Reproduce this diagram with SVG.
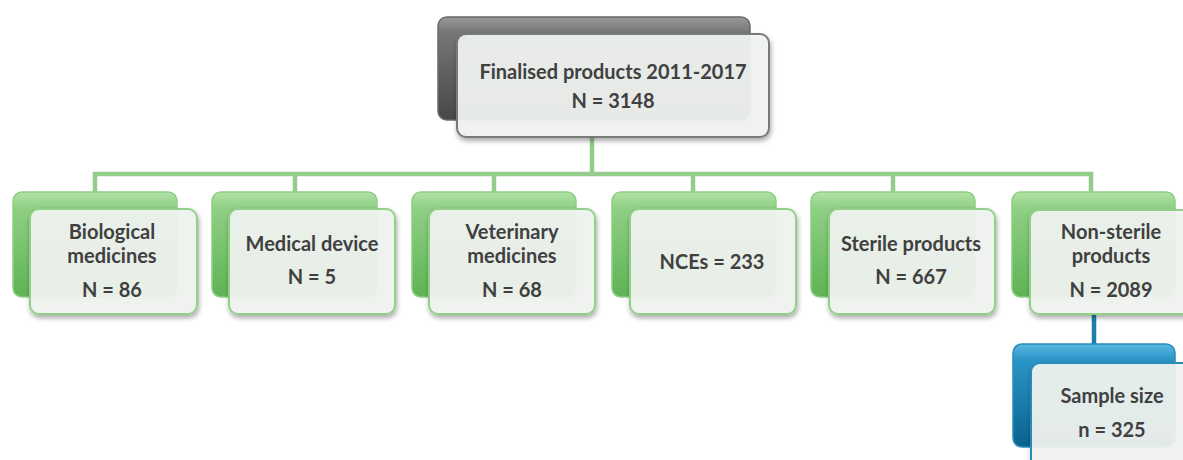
<svg xmlns="http://www.w3.org/2000/svg" width="1183" height="460" viewBox="0 0 1183 460">
<defs>
<linearGradient id="gGreen" x1="0" y1="0" x2="0" y2="1">
<stop offset="0" stop-color="#b2e2a8"/><stop offset="0.15" stop-color="#8fd084"/><stop offset="1" stop-color="#5eb355"/>
</linearGradient>
<linearGradient id="gGray" x1="0" y1="0" x2="0" y2="1">
<stop offset="0" stop-color="#9a9a9a"/><stop offset="0.15" stop-color="#767676"/><stop offset="1" stop-color="#474747"/>
</linearGradient>
<linearGradient id="gBlue" x1="0" y1="0" x2="0" y2="1">
<stop offset="0" stop-color="#5ab8e0"/><stop offset="0.15" stop-color="#2a96c8"/><stop offset="1" stop-color="#0a628e"/>
</linearGradient>
<filter id="sh" x="-10%" y="-10%" width="120%" height="130%">
<feDropShadow dx="1" dy="3" stdDeviation="2.5" flood-color="#000" flood-opacity="0.35"/>
</filter>
</defs>
<style>
.bg{stroke-width:1.5}
.bgG{fill:url(#gGreen);stroke:#8ccf82}
.bgK{fill:url(#gGray);stroke:#6a6a6a}
.bgB{fill:url(#gBlue);stroke:#2a8ab8}
.fr{fill:#f1f4f1;fill-opacity:0.93;stroke-width:2;filter:url(#sh)}
.frG{stroke:#92d08a}
.frK{stroke:#7a7a7a}
.frB{stroke:#2a8ab8}
.t{font-family:Lato,"Liberation Sans",sans-serif;font-weight:bold;font-size:20px;fill:#404040;text-anchor:middle}
.cg{fill:none;stroke:#93cc8b;stroke-width:4.5}
.cb{fill:none;stroke:#1d7fa8;stroke-width:4.5}
</style>
<rect width="1183" height="460" fill="#ffffff"/>
<g id="connectors">
<path class="cg" d="M592 138V174M95 192V174H1091V192M295 174V192M494 174V192M693 174V192M893 174V192"/>
<path class="cb" d="M1094 313V345"/>
</g>
<g id="n-top">
<rect class="bg bgK" x="438" y="17" width="312" height="103" rx="9"/>
<rect class="fr frK" x="457" y="34" width="312" height="103" rx="9"/>
<text class="t" x="613" y="79">Finalised products 2011-2017</text>
<text class="t" x="613" y="108">N = 3148</text>
</g>
<g id="n-bio">
<rect class="bg bgG" x="13" y="192" width="164" height="105" rx="9"/>
<rect class="fr frG" x="30" y="209" width="167" height="105" rx="9"/>
<text class="t" x="112" y="239">Biological</text>
<text class="t" x="112" y="263">medicines</text>
<text class="t" x="112" y="297">N = 86</text>
</g>
<g id="n-med">
<rect class="bg bgG" x="212" y="192" width="165" height="105" rx="9"/>
<rect class="fr frG" x="229" y="209" width="166" height="105" rx="9"/>
<text class="t" x="312" y="251">Medical device</text>
<text class="t" x="312" y="284">N = 5</text>
</g>
<g id="n-vet">
<rect class="bg bgG" x="412" y="192" width="164" height="105" rx="9"/>
<rect class="fr frG" x="429" y="209" width="166" height="105" rx="9"/>
<text class="t" x="512" y="239">Veterinary</text>
<text class="t" x="512" y="263">medicines</text>
<text class="t" x="512" y="297">N = 68</text>
</g>
<g id="n-nce">
<rect class="bg bgG" x="612" y="192" width="164" height="105" rx="9"/>
<rect class="fr frG" x="630" y="209" width="166" height="105" rx="9"/>
<text class="t" x="712" y="269">NCEs = 233</text>
</g>
<g id="n-ster">
<rect class="bg bgG" x="811" y="192" width="164" height="105" rx="9"/>
<rect class="fr frG" x="829" y="209" width="166" height="105" rx="9"/>
<text class="t" x="911" y="251">Sterile products</text>
<text class="t" x="911" y="284">N = 667</text>
</g>
<g id="n-nonster">
<rect class="bg bgG" x="1012" y="192" width="163" height="105" rx="9"/>
<rect class="fr frG" x="1030" y="210" width="166" height="104" rx="9"/>
<text class="t" x="1111" y="239">Non-sterile</text>
<text class="t" x="1111" y="263">products</text>
<text class="t" x="1111" y="297">N = 2089</text>
</g>
<g id="n-sample">
<rect class="bg bgB" x="1013" y="344" width="162" height="103" rx="9"/>
<rect class="fr frB" x="1031" y="363" width="166" height="106" rx="9"/>
<text class="t" x="1112" y="403">Sample size</text>
<text class="t" x="1112" y="437">n = 325</text>
</g>
</svg>
